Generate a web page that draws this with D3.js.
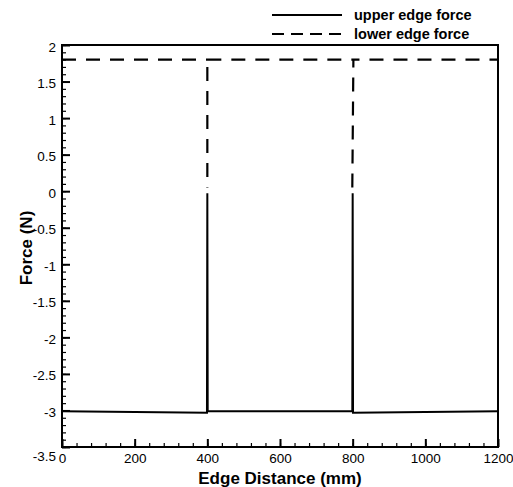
<!DOCTYPE html>
<html>
<head>
<meta charset="utf-8">
<script src="https://cdn.jsdelivr.net/npm/d3@7"></script>
<style>
  body { margin: 0; background: #fff; }
  svg text { font-family: "Liberation Sans", Arial, sans-serif; fill: #000; }
</style>
</head>
<body>
<svg id="chart" width="513" height="487"></svg>
<script>
// upper edge force (solid)
const upperX = [0, 399, 400, 401, 799, 800, 801, 1200];
const upperY = [-3.01, -3.03, -0.03, -3.01, -3.01, -0.03, -3.03, -3.01];
// lower edge force (dashed), NaN = pen up
const lowerX = [0, 400, NaN, 400, 400, NaN, 400, 799, NaN, 799, 802, 1200];
const lowerY = [1.8, 1.8, NaN, 1.7, 0.05, NaN, 1.8, 1.8, NaN, 0.05, 1.8, 1.8];

const xTicks = [0, 200, 400, 600, 800, 1000, 1200];
const yTicks = [2, 1.5, 1, 0.5, 0, -0.5, -1, -1.5, -2, -2.5, -3, -3.5];
const seriesNames = ["upper edge force", "lower edge force"];

const W = 513, H = 487;
const margin = {left: 62, right: 15, top: 45, bottom: 40};

const svg = d3.select("#chart");

const x = d3.scaleLinear().domain([0, 1200]).range([margin.left, W - margin.right]);
const y = d3.scaleLinear().domain([-3.5, 2]).range([H - margin.bottom, margin.top]);

// minor ticks (inside the frame)
svg.append('g')
    .attr('transform', `translate(0,${y(-3.5)})`)
    .call(d3.axisBottom(x).tickValues(d3.range(0, 1201, 40)).tickSize(-4).tickFormat(''))
    .call(g => g.select('.domain').remove())
    .selectAll('line').attr('stroke-width', 1.2);

svg.append('g')
    .attr('transform', `translate(${x(0)},0)`)
    .call(d3.axisLeft(y).tickValues(d3.range(-35, 21, 1).map(d => d / 10)).tickSize(-4).tickFormat(''))
    .call(g => g.select('.domain').remove())
    .selectAll('line').attr('stroke-width', 1.2);

// major ticks + labels
const xAxis = svg.append('g')
    .attr('transform', `translate(0,${y(-3.5)})`)
    .call(d3.axisBottom(x).tickValues(xTicks).tickSize(-8).tickPadding(6).tickFormat(d3.format('d')));
xAxis.select('.domain').remove();
xAxis.selectAll('line').attr('stroke-width', 2);
xAxis.selectAll('text').attr('font-size', 13.5).attr('fill', '#000')
    .attr('font-family', '"Liberation Sans", Arial, sans-serif');

const yAxis = svg.append('g')
    .attr('transform', `translate(${x(0)},0)`)
    .call(d3.axisLeft(y).tickValues(yTicks).tickSize(-8).tickPadding(6).tickFormat(d => String(d)));
yAxis.select('.domain').remove();
yAxis.selectAll('line').attr('stroke-width', 2);
yAxis.selectAll('text').attr('font-size', 13.5).attr('fill', '#000')
    .attr('font-family', '"Liberation Sans", Arial, sans-serif')
    .attr('dy', d => d === -3.5 ? '1.0em' : '0.45em');

// data lines
const line = d3.line()
    .defined(d => !isNaN(d[0]))
    .x(d => x(d[0])).y(d => y(d[1]));

svg.append('path')
    .datum(upperX.map((v, i) => [v, upperY[i]]))
    .attr('d', line)
    .attr('fill', 'none')
    .attr('stroke', '#000')
    .attr('stroke-width', 2);

svg.append('path')
    .datum(lowerX.map((v, i) => [v, lowerY[i]]))
    .attr('d', line)
    .attr('fill', 'none')
    .attr('stroke', '#000')
    .attr('stroke-width', 2.2)
    .attr('stroke-dasharray', '14,10');

// frame
svg.append('rect')
    .attr('x', x(0)).attr('y', y(2))
    .attr('width', x(1200) - x(0)).attr('height', y(-3.5) - y(2))
    .attr('fill', 'none').attr('stroke', '#000').attr('stroke-width', 2);

// axis titles
svg.append('text')
    .attr('x', (x(0) + x(1200)) / 2).attr('y', 484)
    .attr('text-anchor', 'middle')
    .attr('font-size', 17).attr('font-weight', 'bold')
    .text('Edge Distance (mm)');

svg.append('text')
    .attr('transform', `translate(32,248) rotate(-90)`)
    .attr('text-anchor', 'middle')
    .attr('font-size', 17).attr('font-weight', 'bold')
    .text('Force (N)');

// legend
const legend = svg.append('g');
seriesNames.forEach((name, i) => {
    const ly = 15 + i * 19;
    legend.append('line')
        .attr('x1', 272).attr('x2', 342).attr('y1', ly).attr('y2', ly)
        .attr('stroke', '#000').attr('stroke-width', 2)
        .attr('stroke-dasharray', i === 1 ? '12,7' : null);
    legend.append('text')
        .attr('x', 354).attr('y', ly + 5)
        .attr('font-size', 14.5).attr('font-weight', 'bold')
        .text(name);
});
</script>
</body>
</html>
